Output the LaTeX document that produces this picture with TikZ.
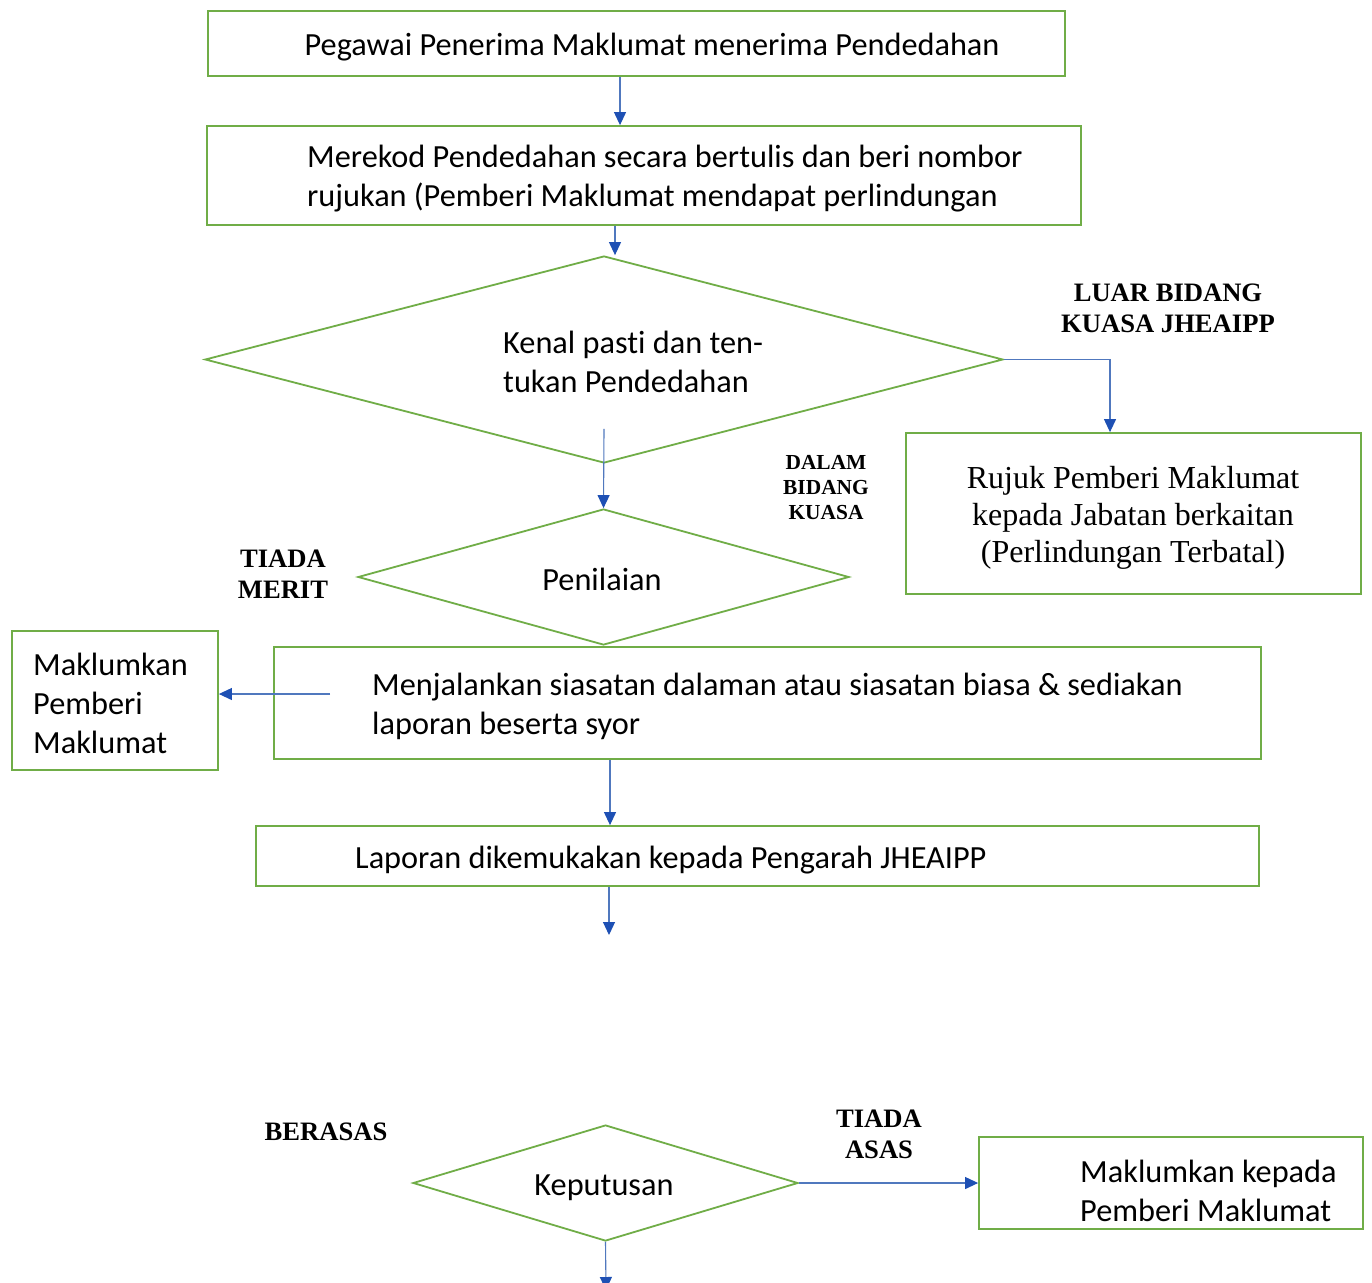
\documentclass[tikz,border=0pt]{standalone}
\usepackage{fontspec}
\setmainfont{Liberation Serif}
\newfontfamily\calfont[Ligatures=NoCommon]{Carlito}
\usetikzlibrary{arrows.meta,shapes.geometric,calc}
\definecolor{bgreen}{RGB}{112,173,71}
\definecolor{ablue}{RGB}{80,120,190}
\definecolor{tipblue}{RGB}{30,80,180}
\tikzset{
  box/.style={draw=bgreen, line width=1.8pt, rectangle, inner sep=0pt},
  dia/.style={draw=bgreen, line width=1.8pt, diamond, inner sep=0pt},
  arr/.style={draw=ablue, line width=1.1pt, -{Triangle[length=13pt,width=12pt,color=tipblue]}},
  stxt/.style={inner sep=0pt, font=\calfont\fontsize{32.3}{39}\selectfont, align=left},
  rtxt/.style={inner sep=0pt, font=\fontsize{32}{37}\selectfont, align=center},
  lbl/.style={inner sep=0pt, font=\bfseries\fontsize{26.6}{31}\selectfont, align=center},
  slbl/.style={inner sep=0pt, font=\bfseries\fontsize{21.4}{25}\selectfont, align=center},
}
\begin{document}
\begin{tikzpicture}[x=1pt,y=-1pt]
\useasboundingbox[fill=white] (0,0) rectangle (1372,1282);
% boxes
\node[box, minimum width=857pt, minimum height=65pt] (b1) at (636.5,43.5) {};
\node[box, minimum width=874pt, minimum height=99pt] (b2) at (644,175.5) {};
\node[dia, minimum width=798pt, minimum height=207pt] (d1) at (604,359.5) {};
\node[box, minimum width=455pt, minimum height=161pt] (r) at (1133.5,513.5) {};
\node[dia, minimum width=491pt, minimum height=136pt] (d2) at (603.5,577) {};
\node[box, minimum width=206pt, minimum height=139pt] (mk) at (115,700.5) {};
\node[box, minimum width=987pt, minimum height=112pt] (mj) at (767.5,703) {};
\node[box, minimum width=1003pt, minimum height=60pt] (lp) at (757.5,856) {};
\node[dia, minimum width=385pt, minimum height=116pt] (d3) at (605.5,1183) {};
\node[box, minimum width=384pt, minimum height=92pt] (mb) at (1171,1183) {};
% texts
\node[stxt, align=center] (t1) at (652,47) {Pegawai Penerima Maklumat menerima Pendedahan};
\node[stxt, anchor=west] (t2) at (307,179) {Merekod Pendedahan secara bertulis dan beri nombor\\rujukan (Pemberi Maklumat mendapat perlindungan};
\node[stxt, anchor=west] (t3) at (503,362) {Kenal pasti dan ten-\\tukan Pendedahan};
\node[lbl] (t4) at (1168,308) {LUAR BIDANG\\KUASA JHEAIPP};
\node[rtxt] (t5) at (1133,518) {Rujuk Pemberi Maklumat\\kepada Jabatan berkaitan\\(Perlindungan Terbatal)};
\node[slbl] (t6) at (826,488) {DALAM\\BIDANG\\KUASA};
\node[stxt] (t7) at (602,579) {Penilaian};
\node[lbl] (t8) at (283,574) {TIADA\\MERIT};
\node[stxt, anchor=west] (t9) at (33,703) {Maklumkan\\Pemberi\\Maklumat};
\node[stxt, anchor=west] (t10) at (372,706) {Menjalankan siasatan dalaman atau siasatan biasa \& sediakan\\laporan beserta syor};
\node[stxt, anchor=west] (t11) at (355,860) {Laporan dikemukakan kepada Pengarah JHEAIPP};
\node[lbl] (t12) at (326,1132) {BERASAS};
\node[stxt] (t13) at (604,1188) {Keputusan};
\node[lbl] (t14) at (879,1134) {TIADA\\ASAS};
\node[stxt, anchor=west] (t15) at (1080,1191) {Maklumkan kepada\\Pemberi Maklumat};
% coordinates
\coordinate (c1) at (620,0);
\coordinate (c2) at (615,0);
\coordinate (c3) at (1110,0);
\coordinate (ls) at (330,694);
\coordinate (c4) at (610,0);
\coordinate (e1) at (609,935);
\coordinate (e2) at (606,1290);
% connectors
\draw[arr] (b1.south -| c1) -- (b2.north -| c1);
\draw[arr] (b2.south -| c2) -- (d1.north -| c2);
\draw[arr] ([yshift=35pt]d1.south) -- (d2.north);
\draw[arr] (d1.east) -| (r.north -| c3);
\draw[arr] (ls) -- (ls -| mk.east);
\draw[arr] (mj.south -| c4) -- (lp.north -| c4);
\draw[arr] (lp.south -| e1) -- (e1);
\draw[arr] (d3.east) -- (d3.east -| mb.west);
\draw[arr] (d3.south) -- (e2);
\end{tikzpicture}
\end{document}
